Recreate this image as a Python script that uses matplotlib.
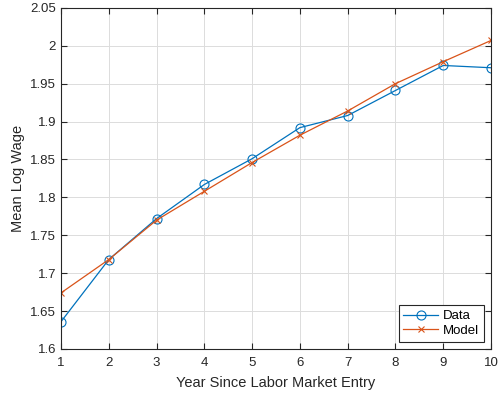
import matplotlib
matplotlib.use("Agg")
import matplotlib.pyplot as plt

years = [1, 2, 3, 4, 5, 6, 7, 8, 9, 10]
data_wage = [1.636, 1.718, 1.772, 1.817, 1.851, 1.892, 1.908, 1.941, 1.974, 1.971]
model_wage = [1.674, 1.718, 1.770, 1.808, 1.846, 1.882, 1.914, 1.950, 1.979, 2.007]
y_ticks = [1.6, 1.65, 1.7, 1.75, 1.8, 1.85, 1.9, 1.95, 2.0, 2.05]
y_tick_labels = ["1.6", "1.65", "1.7", "1.75", "1.8", "1.85", "1.9", "1.95", "2", "2.05"]

plt.rcParams["font.family"] = ["Liberation Sans", "DejaVu Sans"]

fig = plt.figure(figsize=(4.98, 3.93), dpi=100)
ax = fig.add_axes([0.1225, 0.112, 0.8635, 0.868])

ax.plot(years, data_wage, color="#0072BD", lw=0.9, marker="o", ms=6.5,
        mfc="none", mew=0.8, label="Data")
ax.plot(years, model_wage, color="#D95319", lw=0.9, marker="x", ms=5,
        mew=0.8, label="Model")

ax.set_xlim(1, 10)
ax.set_ylim(1.6, 2.05)
ax.set_xticks(years)
ax.set_yticks(y_ticks)
ax.set_yticklabels(y_tick_labels)
ax.grid(True, color="#dcdcdc", lw=0.7)
ax.set_axisbelow(True)
ax.tick_params(direction="in", top=True, right=True, labelsize=9.5,
               color="#262626", labelcolor="#262626", length=4)
ax.tick_params(axis="x", pad=6)
for s in ax.spines.values():
    s.set_color("#262626")
    s.set_linewidth(0.8)

ax.set_xlabel("Year Since Labor Market Entry", fontsize=10.5, color="#262626",
              labelpad=5)
ax.set_ylabel("Mean Log Wage", fontsize=10.5, color="#262626")

leg = ax.legend(loc="lower right", fontsize=9.5, fancybox=False, framealpha=1,
                edgecolor="#262626", borderaxespad=0.55, handlelength=2.6,
                handletextpad=0.4, borderpad=0.35, labelspacing=0.2)
leg.get_frame().set_linewidth(0.8)

fig.savefig("out.png", dpi=100)
